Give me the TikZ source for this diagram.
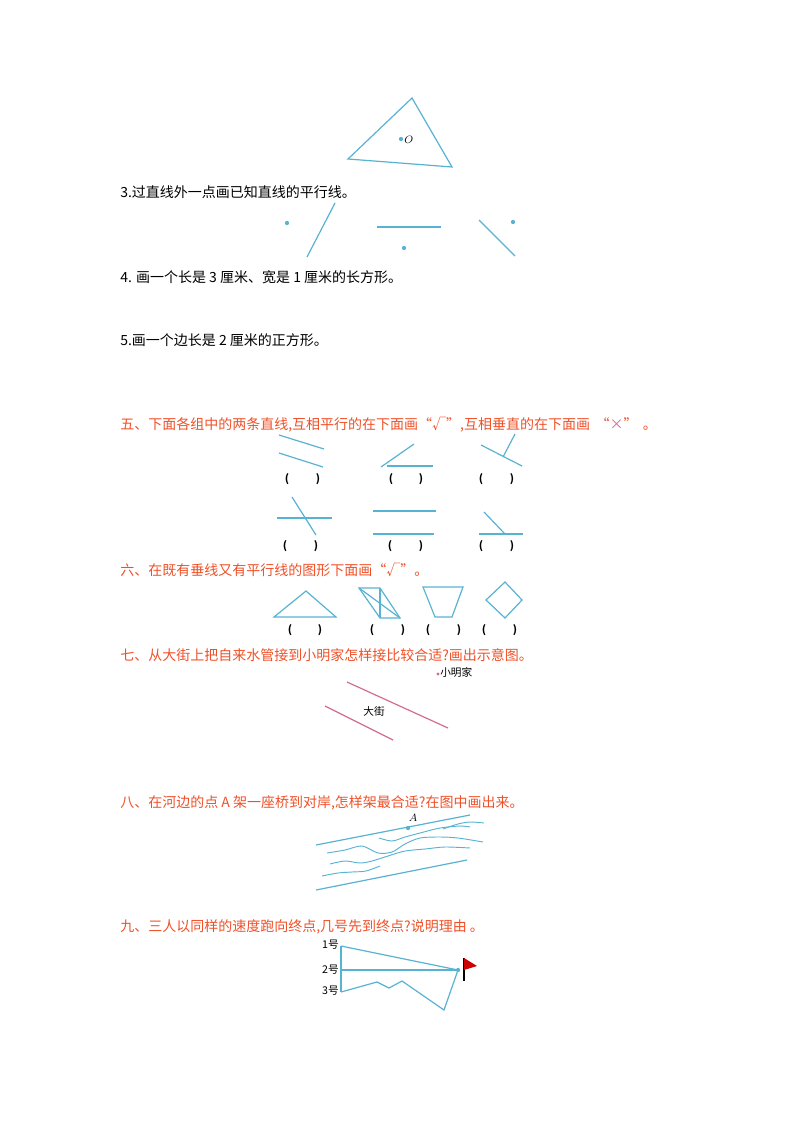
\documentclass[tikz,border=0pt]{standalone}
\usepackage{fontspec}
\setmainfont{Noto Sans CJK SC}
\definecolor{lb}{RGB}{88,178,210}
\definecolor{rd}{RGB}{240,80,40}
\definecolor{pk}{RGB}{210,110,140}
\begin{document}
\begin{tikzpicture}[x=0.75pt,y=-0.75pt,
  ln/.style={draw=lb,line width=0.9pt},
  pl/.style={draw=pk,line width=0.9pt},
  dt/.style={circle,fill=lb,inner sep=0pt,minimum size=3.2pt},
  q/.style={anchor=west,font=\fontsize{10.5pt}{12pt}\selectfont,inner sep=0pt},
  rq/.style={q,text=rd},
  pr/.style={font=\fontsize{8pt}{9pt}\selectfont\bfseries,inner sep=0pt},
  sm/.style={font=\fontsize{8pt}{9pt}\selectfont,inner sep=0pt}]
\useasboundingbox (0,0) rectangle (800,1132);
% triangle
\draw[ln] (412,98) -- (348,159) -- (452,167) -- cycle;
\node[dt] (o) at (401,139) {};
\node[sm,anchor=west] (ol) at (404,140) {$O$};
\node[q] (t3) at (120,192) {3.过直线外一点画已知直线的平行线。};
\node[dt] (d1) at (287,223) {};
\draw[ln] (335,203) -- (307,257);
\draw[ln] (377,227) -- (441,227);
\node[dt] (d2) at (404,248) {};
\draw[ln] (479,220) -- (515,256);
\node[dt] (d3) at (513,222) {};
\node[q] (t4) at (120,277) {4. 画一个长是 3 厘米、宽是 1 厘米的长方形。};
\node[q] (t5) at (120,340) {5.画一个边长是 2 厘米的正方形。};
\node[rq] (t6) at (120,425) {五、下面各组中的两条直线,互相平行的在下面画“√”,互相垂直的在下面画 \,“\textcolor{pk}{×}” \,。};
% group row 1
\draw[ln] (279,435) -- (324,449); \draw[ln] (279,453) -- (323,467);
\draw[ln] (381,467) -- (414,444); \draw[ln] (387,466) -- (433,466);
\draw[ln] (481,445) -- (522,466); \draw[ln] (503,457) -- (515,434);
\foreach \a/\b in {287/318,391/421,481/512}{\node[pr] at (\a,479) {(}; \node[pr] at (\b,479) {)};}
% row 2
\draw[ln] (277,518) -- (332,518); \draw[ln] (292,497) -- (316,535);
\draw[ln] (373,511) -- (436,511); \draw[ln] (373,534) -- (434,534);
\draw[ln] (484,512) -- (505,534); \draw[ln] (479,534) -- (523,534);
\foreach \a/\b in {285/316,390/421,481/512}{\node[pr] at (\a,546) {(}; \node[pr] at (\b,546) {)};}
\node[rq] (t7) at (120,570) {六、在既有垂线又有平行线的图形下面画“√”。};
\draw[ln] (274,617) -- (306,591) -- (336,617) -- cycle;
\draw[ln] (359,588) -- (380,588) -- (400,618) -- (380,618) -- cycle;
\draw[ln] (359,588) -- (400,618); \draw[ln] (380,588) -- (380,618);
\draw[ln] (423,587) -- (463,587) -- (452,617) -- (435,617) -- cycle;
\draw[ln] (505,582) -- (522,600) -- (505,618) -- (486,600) -- cycle;
\foreach \a/\b in {290/320,372/403,428/459,484/515}{\node[pr] at (\a,630) {(}; \node[pr] at (\b,630) {)};}
\node[rq] (t8) at (120,655) {七、从大街上把自来水管接到小明家怎样接比较合适?画出示意图。};
\node[circle,fill=pk,inner sep=0pt,minimum size=2.5pt] (home) at (438,674) {};
\node[sm,anchor=west] (hl) at (440,672) {小明家};
\draw[pl] (347,682) -- (448,728);
\draw[pl] (325,706) -- (393,740);
\node[sm] (st) at (374,711) {大街};
\node[rq] (t9) at (120,803) {八、在河边的点 \textit{A} 架一座桥到对岸,怎样架最合适?在图中画出来。};
\draw[ln] (316,845) -- (470,815);
\draw[ln] (316,890) -- (467,860);
\node[dt] (a) at (408,828) {};
\node[sm] (al) at (413,818) {$A$};
\draw[ln,line width=0.7pt] plot[smooth] coordinates {(379,838) (392,841) (405,837) (420,833) (440,828) (460,826) (470,827)};
\draw[ln,line width=0.7pt] plot[smooth] coordinates {(443,829) (458,824) (470,822) (484,823)};
\draw[ln,line width=0.7pt] plot[smooth] coordinates {(327,853) (345,850) (362,846) (378,853) (392,852) (405,844) (420,838) (440,837) (458,838) (483,842)};
\draw[ln,line width=0.7pt] plot[smooth] coordinates {(330,864) (345,861) (360,863) (372,861) (388,856) (405,851) (425,849) (445,847) (470,848)};
\draw[ln,line width=0.7pt] plot[smooth] coordinates {(322,876) (338,873) (352,872) (366,871) (380,866)};
\node[rq] (t10) at (120,927) {九、三人以同样的速度跑向终点,几号先到终点?说明理由 。};
\node[sm,anchor=east] (r1) at (339,945) {1号};
\node[sm,anchor=east] (r2) at (339,970) {2号};
\node[sm,anchor=east] (r3) at (339,991) {3号};
\coordinate (s1) at (341,946); \coordinate (s2) at (341,970); \coordinate (s3) at (341,992);
\node[dt] (fin) at (458,970) {};
\draw[ln] (s1) -- (s3);
\draw[ln] (s1) -- (fin);
\draw[ln] (s2) -- (fin);
\draw[ln] (s3) -- (377,982) -- (389,988) -- (402,981) -- (444,1010) -- (fin);
\draw[black,line width=1.5pt] (464,958) -- (464,981);
\fill[red!80!black] (464,958) -- (477,966) -- (464,970) -- cycle;
\end{tikzpicture}
\end{document}
